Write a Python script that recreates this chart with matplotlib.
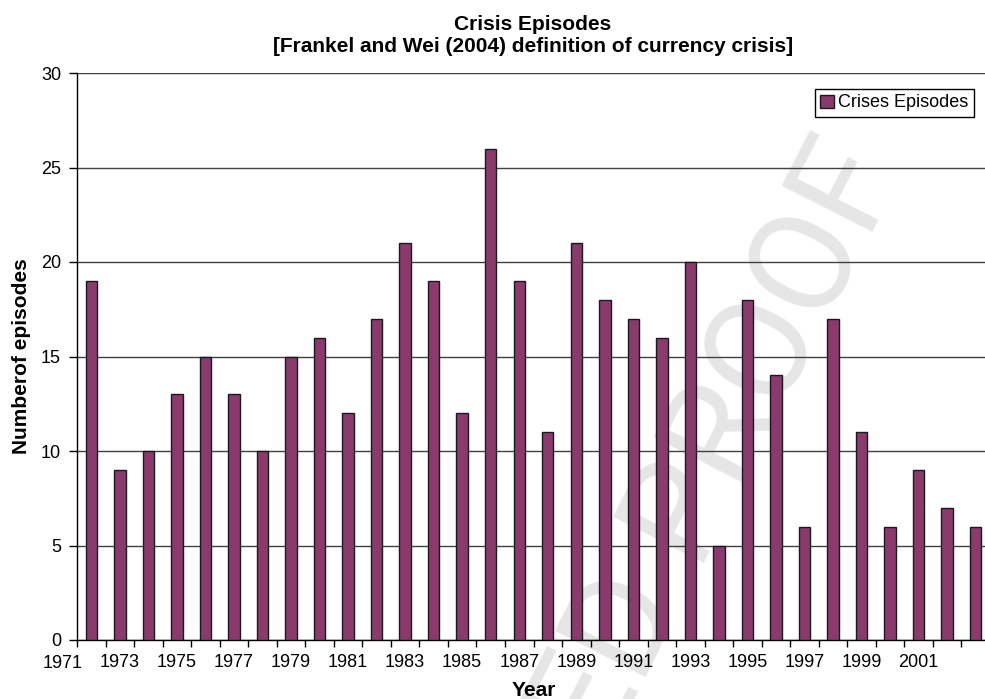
import matplotlib
matplotlib.use('Agg')
import matplotlib.pyplot as plt

plt.rcParams['font.family'] = ['Liberation Sans', 'DejaVu Sans']

years = list(range(1972, 2004))
episodes = [19, 9, 10, 13, 15, 13, 10, 15, 16, 12, 17, 21, 19, 12, 26, 19,
            11, 21, 18, 17, 16, 20, 5, 18, 14, 6, 17, 11, 6, 9, 7, 6]
label_years = list(range(1971, 2003, 2))
y_ticks = [0, 5, 10, 15, 20, 25, 30]

W, H = 985, 699
fig = plt.figure(figsize=(W / 100, H / 100), dpi=100)
ax = fig.add_axes([77 / W, 59 / H, 913 / W, 567 / H])

# faint watermark, behind the bars and grid
ax.text(903 / W, 1 - 172 / H, 'UNCORRECTED PROOF', fontsize=102, color='#e6e6e6',
        family='Roboto', rotation=63, rotation_mode='anchor', ha='right',
        va='baseline', transform=fig.transFigure, zorder=0.3, clip_on=False)

ax.bar(years, episodes, width=0.4, color='#8B3A6E', edgecolor='#1a1a1a',
       linewidth=1, zorder=3, label='Crises Episodes')

ax.set_xlim(1971.5, 2003.5)
ax.set_ylim(0, 30)
ax.set_yticks(y_ticks)
ax.set_axisbelow(True)
ax.yaxis.grid(True, color='#404040', linewidth=1)

# tick marks between categories, labels under every other bar
ax.set_xticks([y + 0.5 for y in range(1971, 2003)])
ax.set_xticklabels([])
ax.set_xticks(label_years[1:], minor=True)
ax.set_xticklabels([str(y) for y in label_years[1:]], minor=True)
ax.tick_params(axis='x', which='major', direction='out', length=5, width=1)
ax.tick_params(axis='x', which='minor', length=0, pad=10, labelsize=13)
ax.tick_params(axis='y', direction='out', length=5.5, width=1, pad=6, labelsize=13)
ax.text(label_years[0], -0.026, str(label_years[0]), transform=ax.get_xaxis_transform(),
        ha='center', va='top', fontsize=13)

for s in ['top', 'right']:
    ax.spines[s].set_visible(False)
for s in ['left', 'bottom']:
    ax.spines[s].set_color('black')
    ax.spines[s].set_linewidth(1)

ax.set_ylabel('Numberof episodes', fontsize=15, fontweight='bold')
ax.yaxis.set_label_coords(-0.05, 0.5)
ax.set_xlabel('Year', fontsize=15, fontweight='bold')
ax.xaxis.set_label_coords(0.5, -0.072)

fig.text(533 / W, 1 - 35 / H,
         'Crisis Episodes\n[Frankel and Wei (2004) definition of currency crisis]',
         ha='center', va='center', fontsize=15, fontweight='bold')

leg = ax.legend(loc='upper right', bbox_to_anchor=(974 / W, 1 - 89 / H),
                bbox_transform=fig.transFigure, fancybox=False, edgecolor='black',
                framealpha=1, fontsize=13, handlelength=0.75, handleheight=0.75,
                handletextpad=0.25, borderpad=0.3, borderaxespad=0)
leg.get_frame().set_linewidth(1)

fig.savefig('out.png', dpi=100)
